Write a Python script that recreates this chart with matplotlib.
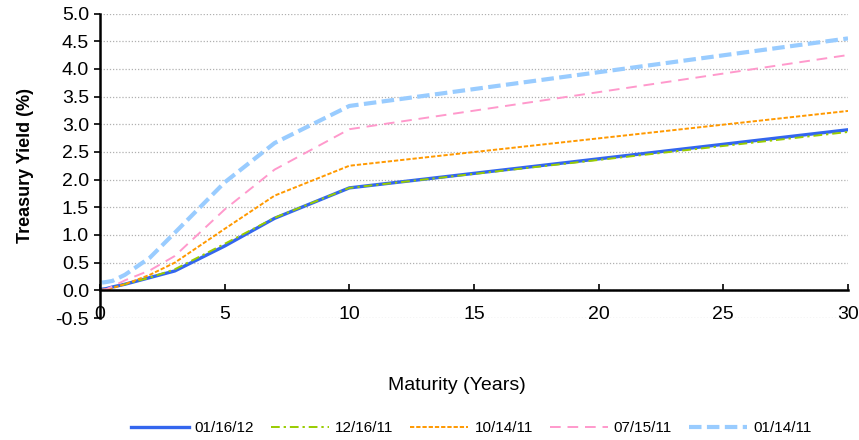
import matplotlib
matplotlib.use("Agg")
import matplotlib.pyplot as plt

plt.rcParams["font.family"] = ["Liberation Sans", "DejaVu Sans"]

# maturities in years (1m, 3m, 6m, 1y, 2y, 3y, 5y, 7y, 10y, 30y)
maturity = [1 / 12, 0.25, 0.5, 1, 2, 3, 5, 7, 10, 30]
dates = ["01/16/12", "12/16/11", "10/14/11", "07/15/11", "01/14/11"]
y_011612 = [0.02, 0.03, 0.06, 0.11, 0.23, 0.35, 0.80, 1.30, 1.85, 2.90]
y_121611 = [0.01, 0.01, 0.05, 0.11, 0.23, 0.38, 0.84, 1.31, 1.85, 2.86]
y_101411 = [0.01, 0.02, 0.04, 0.11, 0.28, 0.50, 1.11, 1.71, 2.25, 3.24]
y_071511 = [0.01, 0.02, 0.07, 0.18, 0.36, 0.62, 1.46, 2.18, 2.91, 4.25]
y_011411 = [0.14, 0.15, 0.17, 0.28, 0.59, 1.04, 1.95, 2.66, 3.33, 4.55]
series = [y_011612, y_121611, y_101411, y_071511, y_011411]

styles = [
    dict(color="#3366EE", lw=2.4, ls="-"),
    dict(color="#99CC00", lw=1.4, dashes=(4.5, 2, 1.2, 2)),
    dict(color="#FF9900", lw=1.4, dashes=(2.2, 1)),
    dict(color="#FF99CC", lw=1.4, dashes=(5.5, 3.5)),
    dict(color="#99CCFF", lw=3.0, dashes=(3, 1.3)),
]

fig = plt.figure(figsize=(8.59, 4.40), dpi=100)
ax = fig.add_axes([100 / 859, 1 - 318 / 440, 748 / 859, 304.5 / 440])

for lab, vals, st in zip(dates, series, styles):
    ax.plot(maturity, vals, label=lab, **st)

ax.set_xlim(0, 30)
ax.set_ylim(-0.5, 5.0)
ax.set_xticks(range(0, 31, 5))
ax.set_yticks([i * 0.5 for i in range(-1, 11)])
ax.yaxis.set_major_formatter(matplotlib.ticker.FormatStrFormatter("%.1f"))
ax.grid(True, axis="y", color="#b0b0b0", ls=(0, (1, 1.5)), lw=0.9)
ax.set_axisbelow(True)

for s in ("top", "right"):
    ax.spines[s].set_visible(False)
ax.spines["bottom"].set_position(("data", 0))
ax.spines["bottom"].set_linewidth(1.8)
ax.spines["left"].set_linewidth(1.8)
ax.tick_params(axis="x", direction="in", length=4, width=1.2, pad=11, labelsize=14)
ax.tick_params(axis="y", direction="out", length=4, width=1.2, pad=4, labelsize=14)

ax.set_ylabel("Treasury Yield (%)", fontsize=13, fontweight="bold", labelpad=15)
fig.text(457 / 859, 1 - 385 / 440, "Maturity (Years)", fontsize=14,
         ha="center", va="center")

fig.legend(loc="center", bbox_to_anchor=(471 / 859, 1 - 428 / 440), ncol=5,
           frameon=False, fontsize=11, handlelength=3.8, columnspacing=1.1,
           handletextpad=0.4)

fig.savefig("out.png", dpi=100)
